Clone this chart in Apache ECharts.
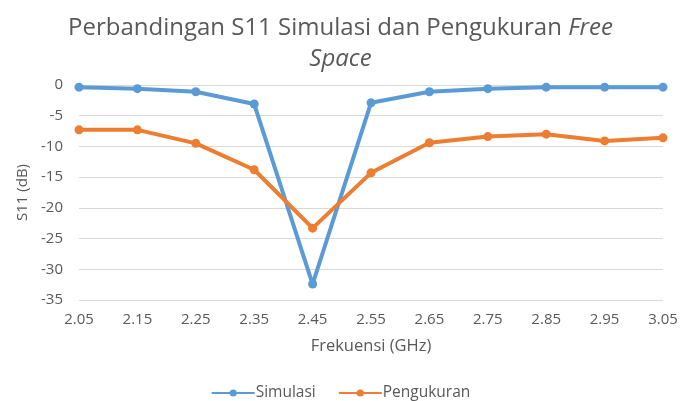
<!DOCTYPE html>
<html><head><meta charset="utf-8">
<script src="https://cdn.jsdelivr.net/npm/echarts@6/dist/echarts.min.js"></script>
<style>html,body{margin:0;padding:0;background:#fff}#c{width:681px;height:401px}</style>
</head><body><div id="c"></div>
<script>
const categories = ['2.05','2.15','2.25','2.35','2.45','2.55','2.65','2.75','2.85','2.95','3.05'];
const simulasi = [-0.35,-0.6,-1.1,-3.1,-32.4,-2.9,-1.1,-0.6,-0.35,-0.35,-0.35];
const pengukuran = [-7.3,-7.3,-9.5,-13.8,-23.3,-14.3,-9.4,-8.4,-8.0,-9.1,-8.6];
const yTicks = {min:-35, max:0, interval:5};
const FONT = 'Open Sans';
const C = '#595959';
const chart = echarts.init(document.getElementById('c'));
chart.setOption({
  animation:false,
  textStyle:{fontFamily:FONT},
  title:{
    text:'{n|Perbandingan S11 Simulasi dan Pengukuran }{i|Free}\n{i|Space}',
    left:'center', top:8,
    textStyle:{
      fontFamily:FONT, fontWeight:'normal',
      rich:{
        n:{fontSize:24,color:C,fontFamily:FONT,fontWeight:'normal',lineHeight:31},
        i:{fontSize:24,color:C,fontFamily:FONT,fontWeight:'normal',fontStyle:'italic',lineHeight:31}
      }
    }
  },
  legend:{
    top:380, left:'center', itemWidth:43, itemHeight:9, itemGap:22,
    textStyle:{color:C,fontSize:15.5,fontFamily:FONT,padding:[0,0,0,-4]},
    data:['Simulasi','Pengukuran']
  },
  grid:{left:79,right:18,top:85,bottom:101},
  xAxis:{
    type:'category', data:categories, boundaryGap:false,
    name:'Frekuensi (GHz)', nameLocation:'middle', nameGap:38,
    nameTextStyle:{color:C,fontSize:16.5,fontFamily:FONT},
    axisLine:{lineStyle:{color:'#d9d9d9'}}, axisTick:{show:false},
    axisLabel:{color:C,fontSize:15,margin:12,fontFamily:FONT}
  },
  yAxis:{
    type:'value', min:yTicks.min, max:yTicks.max, interval:yTicks.interval,
    name:'S11 (dB)', nameLocation:'middle', nameGap:48, nameRotate:90,
    nameTextStyle:{color:C,fontSize:15,fontFamily:FONT},
    axisLine:{show:false}, axisTick:{show:false},
    axisLabel:{color:C,fontSize:15,margin:16,fontFamily:FONT},
    splitLine:{lineStyle:{color:'#d9d9d9',width:1}}
  },
  series:[
    {name:'Simulasi',type:'line',data:simulasi,symbol:'circle',symbolSize:9,
     lineStyle:{color:'#5b9bd5',width:4},itemStyle:{color:'#5b9bd5'}},
    {name:'Pengukuran',type:'line',data:pengukuran,symbol:'circle',symbolSize:9,
     lineStyle:{color:'#ed7d31',width:4},itemStyle:{color:'#ed7d31'}}
  ]
});
</script></body></html>
